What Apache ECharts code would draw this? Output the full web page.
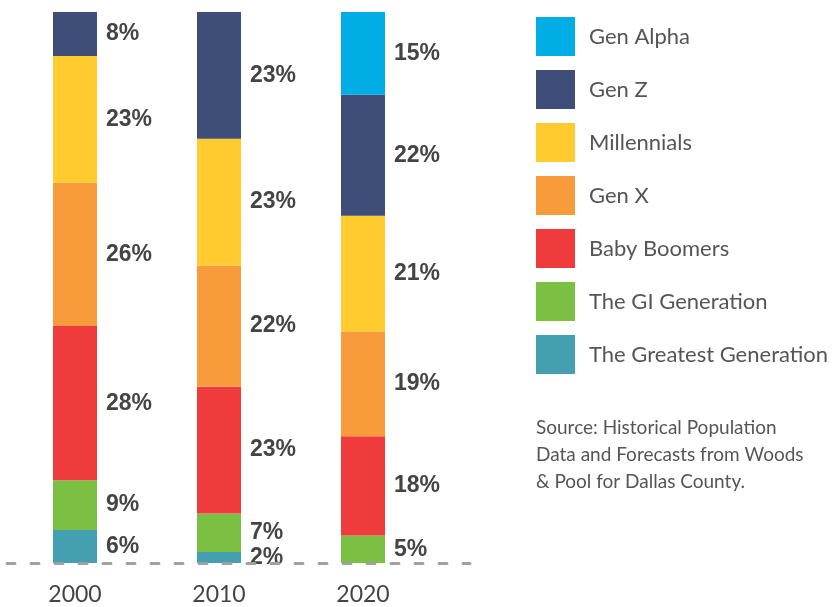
<!DOCTYPE html>
<html><head><meta charset="utf-8">
<script src="https://cdn.jsdelivr.net/npm/echarts@6/dist/echarts.min.js"></script>
<style>html,body{margin:0;padding:0;background:#fff}#c{width:838px;height:607px}</style>
</head><body><div id="c"></div>
<script>
const years = ['2000', '2010', '2020'];
const seriesNames = ['The Greatest Generation', 'The GI Generation', 'Baby Boomers', 'Gen X', 'Millennials', 'Gen Z', 'Gen Alpha'];
const greatest = [6, 2, null];
const giGen = [9, 7, 5];
const boomers = [28, 23, 18];
const genX = [26, 22, 19];
const millennials = [23, 23, 21];
const genZ = [8, 23, 22];
const genAlpha = [null, null, 15];
const colors = ['#449FB1', '#7BC043', '#EF3B3B', '#F89B3A', '#FFCB2F', '#3E4E79', '#00ADE5'];
const sourceText = 'Source: Historical Population\nData and Forecasts from Woods\n& Pool for Dallas County.';

const values = [greatest, giGen, boomers, genX, millennials, genZ, genAlpha];
const chart = echarts.init(document.getElementById('c'));
const series = seriesNames.map((n, i) => ({
  name: n, type: 'bar', stack: 'total', barWidth: 44,
  xAxisIndex: 0, yAxisIndex: 0,
  itemStyle: { color: colors[i] },
  data: values[i],
  label: {
    show: true, position: 'right', distance: 9,
    formatter: p => p.value == null ? '' : p.value + '%',
    fontFamily: 'Liberation Sans', fontWeight: 'bold', fontSize: 23, color: '#444'
  }
}));
chart.setOption({
  animation: false,
  title: {
    text: sourceText, left: 536, top: 414, padding: 0,
    textStyle: { fontFamily: 'Lato', fontWeight: 'normal', fontSize: 19, lineHeight: 27, color: '#555' }
  },
  legend: {
    orient: 'vertical', left: 536, top: 17, padding: 0,
    itemWidth: 39, itemHeight: 39, itemGap: 14,
    icon: 'rect',
    data: seriesNames.slice().reverse(),
    textStyle: { fontFamily: 'Lato', fontSize: 22, color: '#555', padding: [0, 0, 0, 9] }
  },
  grid: [
    { left: 3, width: 432, top: 12, height: 551 },
    { left: 7, width: 463, top: 12, height: 551 }
  ],
  xAxis: [
    { type: 'category', gridIndex: 0, data: years,
      axisLine: { show: false }, axisTick: { show: false },
      axisLabel: { margin: 20, fontFamily: 'Lato', fontSize: 23, color: '#444' } },
    { type: 'value', gridIndex: 1, min: 0, max: 1, z: 10,
      axisLine: { show: true, lineStyle: { color: '#A0A0A0', width: 3, type: [8, 16] } },
      axisTick: { show: false }, axisLabel: { show: false }, splitLine: { show: false } }
  ],
  yAxis: [
    { type: 'value', gridIndex: 0, min: 0, max: 100, show: false },
    { type: 'value', gridIndex: 1, min: 0, max: 1, show: false }
  ],
  series: series
});
</script></body></html>
